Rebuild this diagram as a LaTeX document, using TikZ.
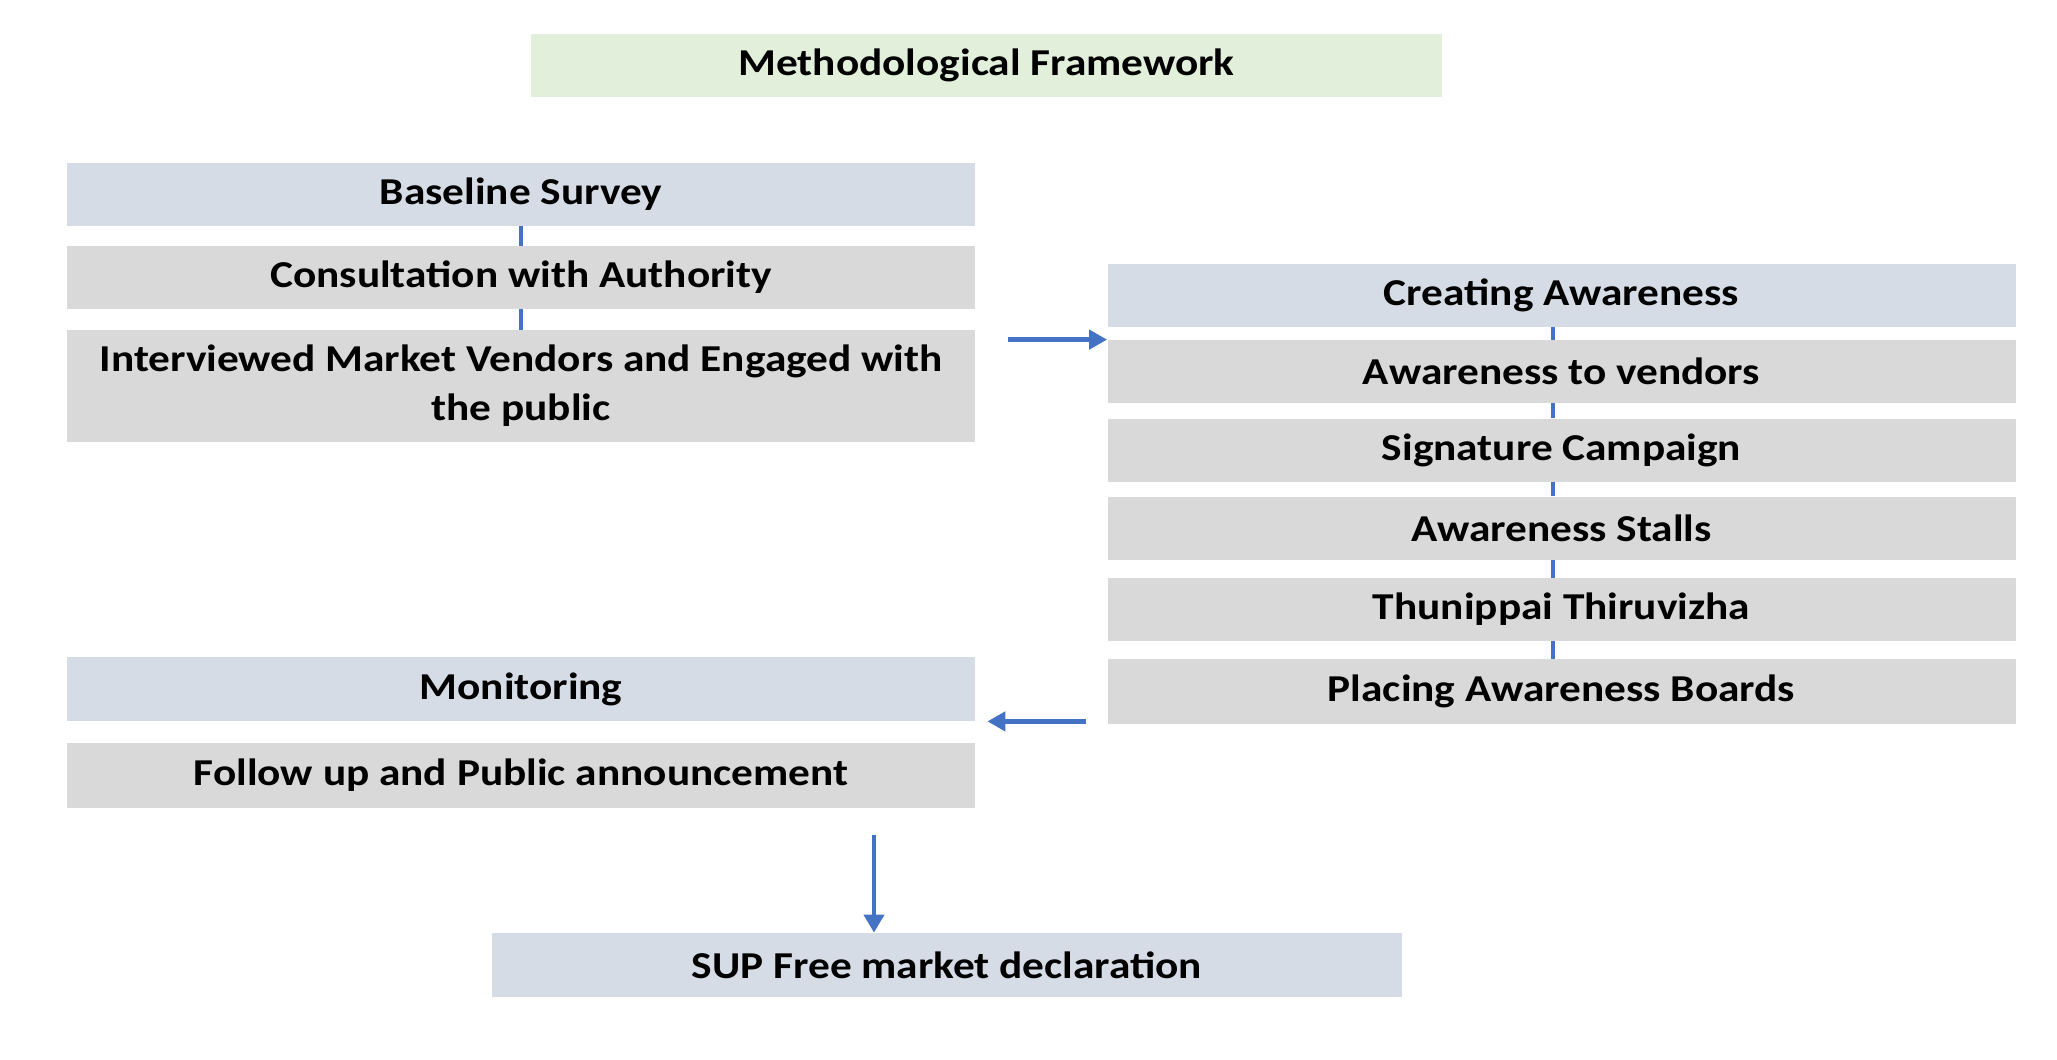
\documentclass[tikz,border=0pt]{standalone}
\usepackage{fontspec}
\setmainfont{Carlito}[FakeStretch = 1.14]
\usetikzlibrary{arrows.meta}
\definecolor{headfill}{HTML}{D6DCE5}
\definecolor{stepfill}{HTML}{D9D9D9}
\definecolor{titlefill}{HTML}{E2EFDA}
\definecolor{linkblue}{HTML}{4472C4}
\tikzset{
  box/.style = {minimum width = 454pt, minimum height = 31.5pt, inner sep = 0pt, align = center, font = \fontsize{19}{24.5}\selectfont\bfseries},
  headbox/.style = {box, fill = headfill},
  stepbox/.style = {box, fill = stepfill},
  titlebox/.style = {box, fill = titlefill, minimum width = 455.5pt},
  link/.style = {draw = linkblue, line width = 2pt},
  flow/.style = {draw = linkblue, line width = 2.2pt, -{Triangle[length = 9pt, width = 9.5pt]}},
  downflow/.style = {draw = linkblue, line width = 2pt, {Triangle[length = 9pt, width = 10pt]}-}
}
\begin{document}
\begin{tikzpicture}[x = 0.5pt, y = -0.5pt]
\useasboundingbox (0,0) rectangle (2057,1060);
\node[titlebox] (title) at (986.5,65.5) {Methodological Framework};
% first phase
\node[headbox] (baseline) at (521,194.5) {Baseline Survey};
\node[stepbox] (consult) at (521,277.5) {Consultation with Authority};
\node[stepbox, minimum height = 56pt] (interview) at (521,386) {Interviewed Market Vendors and Engaged with\\the public};
\draw[link] (baseline) -- (consult);
\draw[link] (consult) -- (interview);
% second phase
\node[headbox] (creating) at (1561.5,295.5) {Creating Awareness};
\node[stepbox] (vendors) at (1561.5,371.5) {Awareness to vendors};
\node[stepbox] (signature) at (1561.5,450) {Signature Campaign};
\node[stepbox] (stalls) at (1561.5,528) {Awareness Stalls};
\node[stepbox] (thunippai) at (1561.5,609.5) {Thunippai Thiruvizha};
\node[stepbox, minimum height = 32.5pt] (placing) at (1561.5,691.5) {Placing Awareness Boards};
\foreach \a/\b in {creating/vendors, vendors/signature, signature/stalls, stalls/thunippai, thunippai/placing}
  \draw[link] ([xshift = -4.25pt]\a.south) -- ([xshift = -4.25pt]\b.north);
% third phase
\node[headbox, minimum height = 32pt] (monitoring) at (521,689) {Monitoring};
\node[stepbox, minimum height = 32.5pt] (follow) at (521,775.5) {Follow up and Public announcement};
\node[headbox, minimum width = 455pt, minimum height = 32pt] (sup) at (947,965) {SUP Free market declaration};
% arrows between phases
\draw[flow] ([xshift = 16.5pt]interview.east |- vendors.north) -- (creating.west |- vendors.north);
\draw[flow] ([xshift = -10.5pt]placing.west |- monitoring.south) -- ([xshift = 6pt]monitoring.south east);
\draw[downflow] ([xshift = -36.5pt]sup.north) -- ++(0,-98);
\end{tikzpicture}
\end{document}
